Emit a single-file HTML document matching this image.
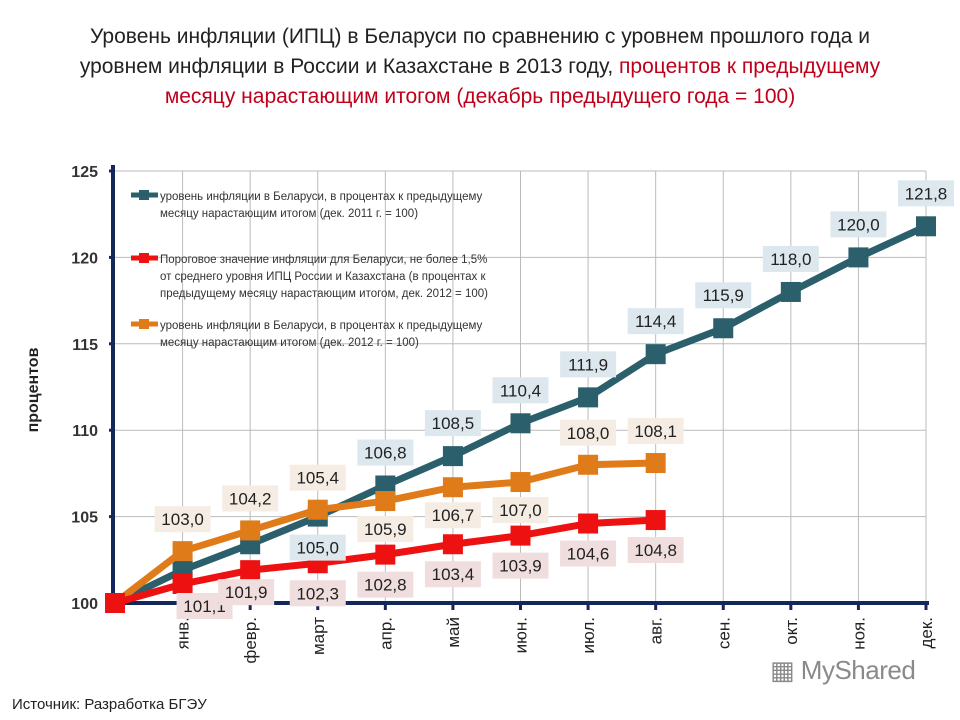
<!DOCTYPE html>
<html><head><meta charset="utf-8">
<style>
body{margin:0;background:#fff;width:960px;height:720px;overflow:hidden;font-family:"Liberation Sans","DejaVu Sans",sans-serif}
.title{position:absolute;left:0;top:22px;width:960px;text-align:center;font-size:21px;line-height:30px;color:#222}
.red{color:#c0001a}
.src{position:absolute;left:12px;top:696px;font-size:15px;color:#222}
.logo{position:absolute;left:770px;top:655px;font-size:26px;color:#8a8a8a;letter-spacing:-0.5px}
</style></head><body>
<div class="title">Уровень инфляции (ИПЦ) в Беларуси по сравнению с уровнем прошлого года и<br>уровнем инфляции в России и Казахстане в 2013 году, <span class="red">процентов к предыдущему<br>месяцу нарастающим итогом (декабрь предыдущего года = 100)</span></div>
<svg id="chart" width="960" height="720" style="position:absolute;left:0;top:0"></svg>
<div class="src">Источник: Разработка БГЭУ</div>
<div class="logo">▦ MyShared</div>
<script>
const months = ["","янв.","февр.","март","апр.","май","июн.","июл.","авг.","сен.","окт.","ноя.","дек."];
const yTicks = [100,105,110,115,120,125];
const tealValues = [100,101.9,103.4,105.0,106.8,108.5,110.4,111.9,114.4,115.9,118.0,120.0,121.8];
const tealLabels = ["","","","105,0","106,8","108,5","110,4","111,9","114,4","115,9","118,0","120,0","121,8"];
const redValues = [100,101.1,101.9,102.3,102.8,103.4,103.9,104.6,104.8];
const redLabels = ["","101,1","101,9","102,3","102,8","103,4","103,9","104,6","104,8"];
const orangeValues = [100,103.0,104.2,105.4,105.9,106.7,107.0,108.0,108.1];
const orangeLabels = ["","103,0","104,2","105,4","105,9","106,7","107,0","108,0","108,1"];
const orangeBelow = [false,false,false,false,true,true,true,false,false];

const NS="http://www.w3.org/2000/svg";
const svg=document.getElementById('chart');
const x0=115,x1=926,yB=603,yT=171;
const X=i=>x0+(x1-x0)*i/12;
const Y=v=>yB-(v-100)*(yB-yT)/25;
function mk(t,a){const e=document.createElementNS(NS,t);for(const k in a)e.setAttribute(k,a[k]);svg.appendChild(e);return e;}

yTicks.forEach(v=>{
  const g=mk('line',{x1:x0,x2:x1,y1:Y(v),y2:Y(v),stroke:'#bbb','stroke-width':1});
  
  
  const t=mk('text',{x:98,y:Y(v)+6,'text-anchor':'end','font-size':16,'font-weight':'bold',fill:'#333'});
  t.textContent=v;
  
  
  mk('line',{x1:x0-6,x2:x0,y1:Y(v),y2:Y(v),stroke:'#14275a','stroke-width':3});
});
months.forEach((m,i)=>{
  if(i===0)return;
  const g=mk('line',{x1:X(i),x2:X(i),y1:yT,y2:yB,stroke:'#bbb','stroke-width':1});
  
  
  mk('line',{x1:X(i),x2:X(i),y1:yB,y2:yB+7,stroke:'#14275a','stroke-width':3});
  const t=mk('text',{x:0,y:0,'text-anchor':'end','font-size':17,fill:'#222',transform:`translate(${X(i)+6},${yB+14}) rotate(-90)`});
  t.textContent=m;
  
  
});
const ax=mk('line',{x1:x0-2,x2:x0-2,y1:yT-6,y2:yB,stroke:'#14275a','stroke-width':4});


const ax2=mk('line',{x1:x0-2,x2:x1+3,y1:yB,y2:yB,stroke:'#14275a','stroke-width':4});


const yt=mk('text',{x:0,y:0,'text-anchor':'middle','font-size':16,'font-weight':'bold',fill:'#222',transform:'translate(38,390) rotate(-90)'});
yt.textContent='процентов';



function label(x,y,txt,bg,name){
  const w=txt.length*10+6;
  const r=mk('rect',{x:x-w/2,y:y-13,width:w,height:26,fill:bg});
  
  
  const t=mk('text',{x:x,y:y+6,'text-anchor':'middle','font-size':17,fill:'#222'});
  t.textContent=txt;
  
  
}
function series(vals,color,name){
  const p=mk('polyline',{points:vals.map((v,i)=>X(i)+','+Y(v)).join(' '),fill:'none',stroke:color,'stroke-width':7,'stroke-linejoin':'round'});
  
  
  vals.forEach((v,i)=>{
    const r=mk('rect',{x:X(i)-10,y:Y(v)-10,width:20,height:20,fill:color});
    
    
  });
}
series(tealValues,'#2b5f6b','teal-series');
series(orangeValues,'#e07b1a','orange-series');
series(redValues,'#ee1111','red-series');
tealValues.forEach((v,i)=>{ if(tealLabels[i]) label(X(i),Y(v)+(i===3?31:-33),tealLabels[i],'#dde8ee','teal-value-label');});
orangeValues.forEach((v,i)=>{ if(orangeLabels[i]) label(X(i),Y(v)+(orangeBelow[i]?28:-32),orangeLabels[i],'#f5ede3','orange-value-label');});
redValues.forEach((v,i)=>{ if(redLabels[i]) label(X(i)+(i===1?22:i===2?-4:0),Y(v)+(i<3?22:30),redLabels[i],'#f0dede','red-value-label');});

// legend
const leg=[['#2b5f6b',195,['уровень инфляции  в Беларуси, в процентах  к предыдущему','месяцу нарастающим  итогом  (дек. 2011 г. = 100)']],
['#ee1111',258,['Пороговое значение  инфляции  для Беларуси, не более 1,5%','от среднего  уровня ИПЦ России и Казахстана (в процентах к','предыдущему  месяцу нарастающим  итогом, дек. 2012 = 100)']],
['#e07b1a',324,['уровень инфляции  в Беларуси, в процентах  к предыдущему','месяцу нарастающим  итогом  (дек. 2012 г. = 100)']]];
leg.forEach(([c,y,lines])=>{
  const l=mk('line',{x1:131,x2:158,y1:y,y2:y,stroke:c,'stroke-width':5});
  
  
  mk('rect',{x:139,y:y-5,width:10,height:10,fill:c});
  lines.forEach((s,k)=>{
    const t=mk('text',{x:160,y:y+5+k*17,'font-size':11.5,fill:'#333'});
    t.textContent=s;
    
    
  });
});
</script>
</body></html>
